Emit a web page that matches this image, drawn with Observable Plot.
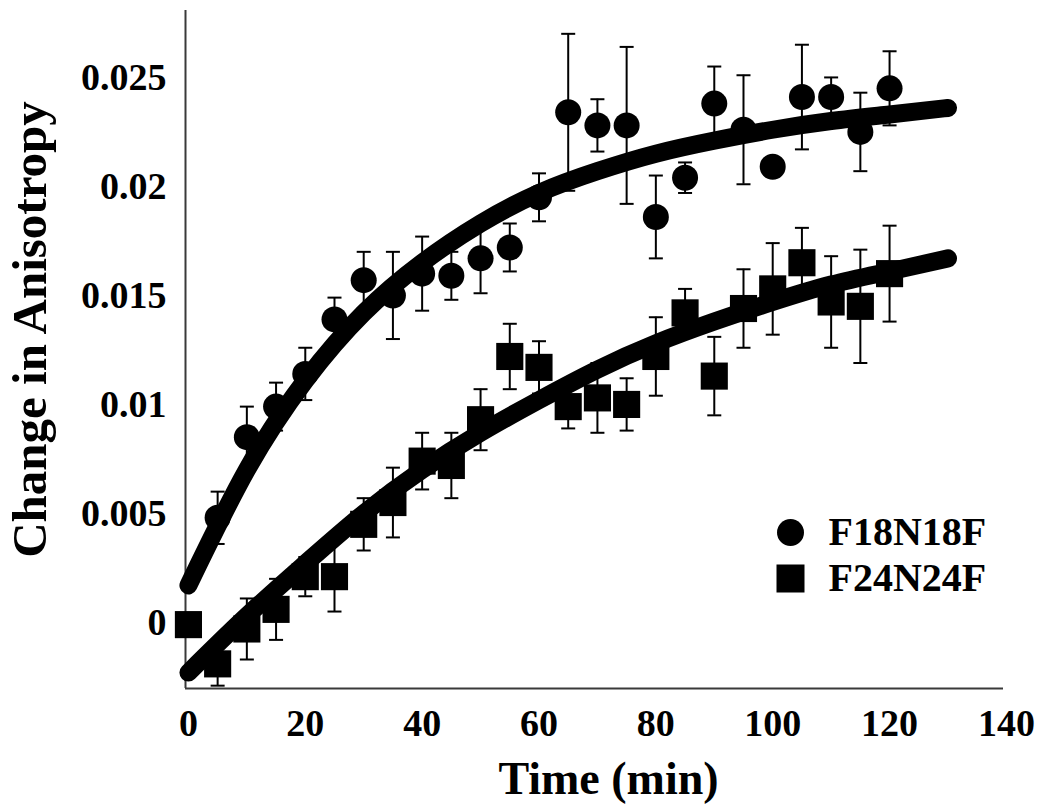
<!DOCTYPE html>
<html>
<head>
<meta charset="utf-8">
<script src="https://cdn.jsdelivr.net/npm/d3@7"></script>
<script src="https://cdn.jsdelivr.net/npm/@observablehq/plot@0.6"></script>
<style>
  html, body { margin: 0; padding: 0; background: #ffffff; }
  #chart svg { display: block; }
</style>
</head>
<body>
<div id="chart"></div>
<script>
// ---- Data ----
const seriesNames = ["F18N18F", "F24N24F"];

// F18N18F (circles)
const circT   = [5,10,15,20,25,30,35,40,45,50,55,60,65,70,75,80,85,90,95,100,105,110,115,120];
const circY   = [0.0048,0.0085,0.0099,0.0114,0.0139,0.0157,0.0150,0.0160,0.0159,0.0167,0.0172,0.0195,
                 0.0234,0.0228,0.0228,0.0186,0.0204,0.0238,0.0226,0.0209,0.0241,0.0241,0.0225,0.0245];
const circErr = [0.0012,0.0014,0.0011,0.0012,0.0010,0.0013,0.0020,0.0017,0.0011,0.0016,0.0011,0.0011,
                 0.0036,0.0012,0.0036,0.0019,0.0007,0.0017,0.0025,0.0003,0.0024,0.0009,0.0018,0.0017];

// F24N24F (squares)
const sqT   = [0,5,10,15,20,25,30,35,40,45,50,55,60,65,70,75,80,85,90,95,100,105,110,115,120];
const sqY   = [-0.0001,-0.0019,-0.0003,0.0006,0.0021,0.0021,0.0045,0.0055,0.0074,0.0072,0.0093,0.0122,
               0.0117,0.0099,0.0103,0.0100,0.0122,0.0142,0.0113,0.0144,0.0153,0.0165,0.0147,0.0145,0.0160];
const sqErr = [0,0.0010,0.0014,0.0014,0.0009,0.0016,0.0012,0.0016,0.0013,0.0015,0.0014,0.0015,
               0.0012,0.0010,0.0016,0.0012,0.0018,0.0011,0.0018,0.0018,0.0021,0.0016,0.0021,0.0026,0.0022];

// Fitted curves
const fitT    = [0,10,20,30,40,50,60,70,80,90,100,110,120,130];
const fitCirc = [0.0017,0.0070,0.0111,0.0142,0.0165,0.0183,0.0197,0.0207,0.0215,0.0221,0.0226,0.0230,0.0233,0.0236];
const fitSq   = [-0.0023,0.0003,0.0027,0.0050,0.0070,0.0087,0.0102,0.0116,0.0128,0.0138,0.0147,0.0155,0.0161,0.0167];

// Axes
const xTicks = [0,20,40,60,80,100,120,140];
const yTicks = [0,0.005,0.01,0.015,0.02,0.025];
const yTickLabels = ["0","0.005","0.01","0.015","0.02","0.025"];
const xDomain = [-0.5, 139.5];
const yDomain = [-0.00303, 0.02807];
const xTitle = "Time (min)";
const yTitle = "Change in Anisotropy";

// ---- Build tables ----
const circ = circT.map((t, i) => ({t, y: circY[i], e: circErr[i]}));
const sq = sqT.map((t, i) => ({t, y: sqY[i], e: sqErr[i]}));
const fit1 = fitT.map((t, i) => ({t, y: fitCirc[i]}));
const fit2 = fitT.map((t, i) => ({t, y: fitSq[i]}));
const allPts = circ.concat(sq).filter(d => d.e > 0);

const capSymbol = {
  draw(context, size) {
    const w = Math.sqrt(size / Math.PI);
    context.moveTo(-w, 0);
    context.lineTo(w, 0);
  }
};

const FONT = "'Liberation Serif', 'Times New Roman', Times, serif";
const tickFmt = d => yTickLabels[yTicks.indexOf(d)] ?? String(d);

const chart = Plot.plot({
  width: 1041,
  height: 805,
  marginLeft: 185,
  marginRight: 38,
  marginTop: 10,
  marginBottom: 117,
  style: {fontFamily: FONT, fontSize: "38px", fontWeight: "bold", color: "#000", background: "#fff"},
  x: {domain: xDomain},
  y: {domain: yDomain},
  marks: [
    // axis lines
    Plot.ruleX([xDomain[0]], {stroke: "#3a3a3a", strokeWidth: 2}),
    Plot.ruleY([yDomain[0]], {stroke: "#3a3a3a", strokeWidth: 2}),
    Plot.axisX({ticks: xTicks, tickSize: 0, tickPadding: 21, label: null, fontSize: 38, fontWeight: "bold", fontFamily: FONT, tickFormat: d => String(d)}),
    Plot.axisY({ticks: yTicks, tickSize: 0, tickPadding: 19, label: null, fontSize: 38, fontWeight: "bold", fontFamily: FONT, tickFormat: tickFmt}),
    // error bars
    Plot.ruleX(allPts, {x: "t", y1: d => d.y - d.e, y2: d => d.y + d.e, stroke: "#000", strokeWidth: 2}),
    Plot.dot(allPts, {x: "t", y: d => d.y + d.e, symbol: capSymbol, r: 7, stroke: "#000", strokeWidth: 2, fill: "none"}),
    Plot.dot(allPts, {x: "t", y: d => d.y - d.e, symbol: capSymbol, r: 7, stroke: "#000", strokeWidth: 2, fill: "none"}),
    // markers
    Plot.dot(circ, {x: "t", y: "y", r: 13, fill: "#000", symbol: "circle"}),
    Plot.dot(sq, {x: "t", y: "y", r: 15.3, fill: "#000", symbol: "square"}),
    // fitted curves
    Plot.line(fit1, {x: "t", y: "y", curve: "natural", stroke: "#000", strokeWidth: 18, strokeLinecap: "round", strokeLinejoin: "round"}),
    Plot.line(fit2, {x: "t", y: "y", curve: "natural", stroke: "#000", strokeWidth: 18, strokeLinecap: "round", strokeLinejoin: "round"}),
    // legend
    Plot.dot([seriesNames[0]], {frameAnchor: "top-left", dx: 605, dy: 522, r: 13.5, fill: "#000", symbol: "circle"}),
    Plot.dot([seriesNames[1]], {frameAnchor: "top-left", dx: 605, dy: 568, r: 15.8, fill: "#000", symbol: "square"}),
    Plot.text([seriesNames[0]], {text: d => d, frameAnchor: "top-left", dx: 643, dy: 522, textAnchor: "start", lineAnchor: "middle", fontSize: 40, fontWeight: "bold", fontFamily: FONT, fill: "#000"}),
    Plot.text([seriesNames[1]], {text: d => d, frameAnchor: "top-left", dx: 643, dy: 568, textAnchor: "start", lineAnchor: "middle", fontSize: 40, fontWeight: "bold", fontFamily: FONT, fill: "#000"}),
    // axis titles
    Plot.text([xTitle], {text: d => d, frameAnchor: "bottom", dx: 14, dy: 91, textAnchor: "middle", lineAnchor: "middle", fontSize: 46, fontWeight: "bold", fontFamily: FONT, fill: "#000"}),
    Plot.text([yTitle], {text: d => d, frameAnchor: "left", dx: -155, dy: -20, rotate: -90, textAnchor: "middle", lineAnchor: "middle", fontSize: 49, fontWeight: "bold", fontFamily: FONT, fill: "#000"})
  ]
});

document.getElementById("chart").appendChild(chart);
</script>
</body>
</html>
